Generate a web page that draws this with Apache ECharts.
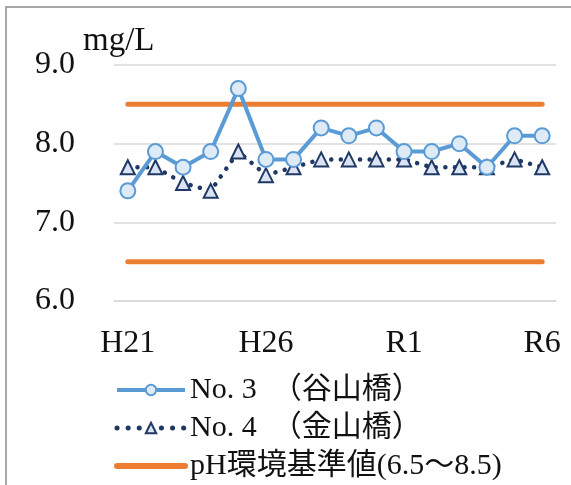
<!DOCTYPE html>
<html>
<head>
<meta charset="utf-8">
<script src="https://cdn.jsdelivr.net/npm/echarts@6/dist/echarts.min.js"></script>
<style>
html,body{margin:0;padding:0;background:#fff;}
#c{width:571px;height:485px;}
</style>
</head>
<body>
<div id="c"></div>
<script>
// Fiscal years (Heisei 21 – Reiwa 6)
const years = ['H21','H22','H23','H24','H25','H26','H27','H28','H29','H30','R1','R2','R3','R4','R5','R6'];
// pH at No.3 (谷山橋)
const no3 = [7.4, 7.9, 7.7, 7.9, 8.7, 7.8, 7.8, 8.2, 8.1, 8.2, 7.9, 7.9, 8.0, 7.7, 8.1, 8.1];
// pH at No.4 (金山橋)
const no4 = [7.7, 7.7, 7.5, 7.4, 7.9, 7.6, 7.7, 7.8, 7.8, 7.8, 7.8, 7.7, 7.7, 7.7, 7.8, 7.7];
// Environmental standard range for pH
const stdUpper = 8.5;
const stdLower = 6.5;

const name3 = 'No. 3  （谷山橋）';
const name4 = 'No. 4  （金山橋）';
const nameStd = 'pH環境基準値(6.5～8.5)';
const font = "'Liberation Serif', 'DejaVu Serif', 'Noto Sans CJK JP', serif";

const chart = echarts.init(document.getElementById('c'), null, {renderer: 'canvas'});
chart.setOption({
  animation: false,
  backgroundColor: '#fff',
  textStyle: {fontFamily: font},
  graphic: [
    {type: 'rect', shape: {x: 6, y: 7, width: 600, height: 520},
     style: {fill: 'none', stroke: '#8c8c8c', lineWidth: 1.5}, silent: true},
    {type: 'text', left: 83, top: 25,
     style: {text: 'mg/L', font: "33px " + font, fill: '#111'}}
  ],
  grid: {left: 114, right: 15, top: 65, bottom: 184},
  legend: {
    orient: 'vertical',
    left: 109,
    top: 370,
    height: 200,
    itemWidth: 68,
    itemHeight: 13,
    itemGap: 8,
    textStyle: {fontFamily: font, fontSize: 30, color: '#111'},
    data: [
      {name: name3, lineStyle: {width: 4, color: '#5b9bd5'}},
      {name: name4, lineStyle: {width: 5, color: '#203864', type: [0.1, 11], cap: 'round'}},
      {name: nameStd, itemStyle: {opacity: 0}, lineStyle: {width: 6, color: '#ed7d31', cap: 'round'}}
    ]
  },
  xAxis: {
    type: 'category',
    data: years,
    boundaryGap: true,
    axisLine: {lineStyle: {color: '#d9d9d9', width: 1.5}},
    axisTick: {inside: true, length: 9, lineStyle: {color: '#d9d9d9', width: 1.5}, interval: 0},
    axisLabel: {interval: 4, margin: 27, fontSize: 32, color: '#111', fontFamily: font},
    splitLine: {show: false}
  },
  yAxis: {
    type: 'value',
    min: 6, max: 9, interval: 1,
    axisLine: {show: false},
    axisTick: {show: false},
    axisLabel: {margin: 39, fontSize: 32, color: '#111', fontFamily: font,
      formatter: v => v.toFixed(1)},
    splitLine: {lineStyle: {color: '#d9d9d9', width: 1.5}}
  },
  series: [
    {
      name: nameStd, type: 'line', data: years.map(() => stdUpper),
      symbol: 'none', z: 1,
      lineStyle: {color: '#ed7d31', width: 5, cap: 'round'},
      itemStyle: {color: '#ed7d31'}
    },
    {
      name: nameStd, type: 'line', data: years.map(() => stdLower),
      symbol: 'none', z: 1,
      lineStyle: {color: '#ed7d31', width: 5, cap: 'round'},
      itemStyle: {color: '#ed7d31'}
    },
    {
      name: name4, type: 'line', data: no4,
      symbol: 'triangle', symbolSize: 14, z: 2,
      lineStyle: {color: '#203864', width: 4.5, type: [0.1, 9.5], cap: 'round'},
      itemStyle: {color: '#dae3f3', borderColor: '#203864', borderWidth: 2}
    },
    {
      name: name3, type: 'line', data: no3,
      symbol: 'circle', symbolSize: 15, z: 3,
      lineStyle: {color: '#5b9bd5', width: 4},
      itemStyle: {color: '#deebf7', borderColor: '#5b9bd5', borderWidth: 2}
    }
  ]
});
</script>
</body>
</html>
